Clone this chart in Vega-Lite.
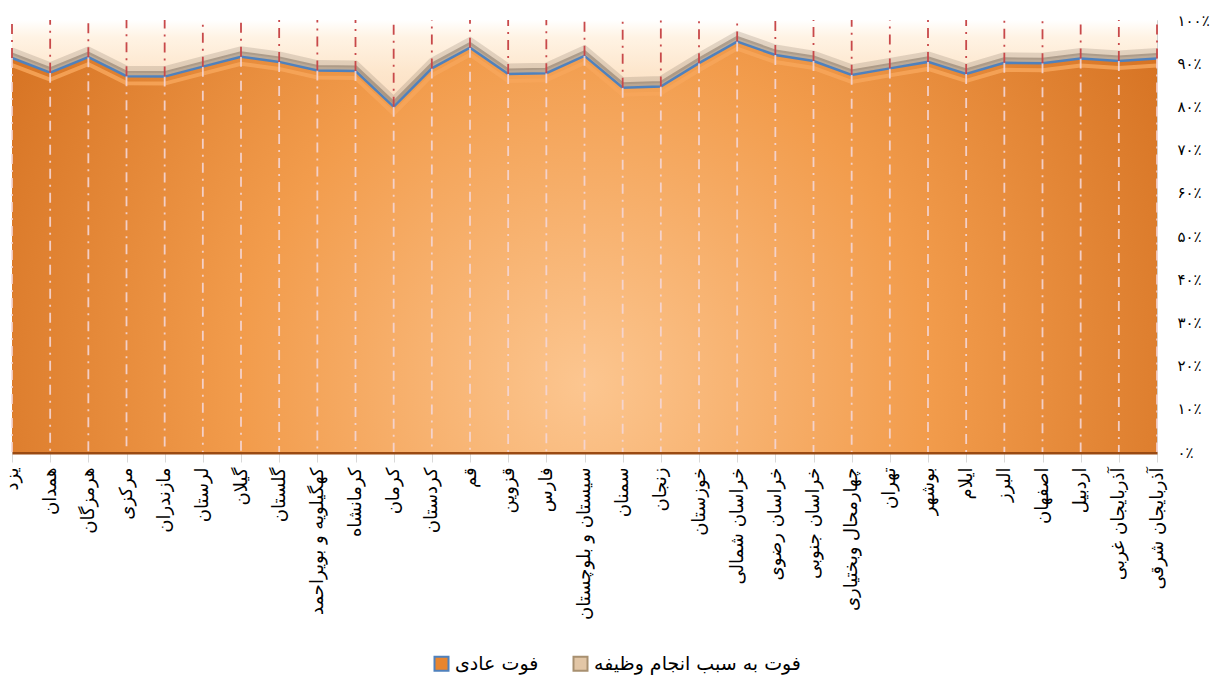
{
  "$schema": "https://vega.github.io/schema/vega-lite/v6.json",
  "autosize": "none",
  "width": 1145,
  "height": 432,
  "padding": {"left": 12, "top": 20, "right": 69, "bottom": 232},
  "background": "white",
  "config": {
    "font": "DejaVu Sans",
    "view": {"stroke": "#cfcfcf", "strokeWidth": 1}
  },
  "datasets": {
    "main": [
      {"province": "یزد", "normal": 0.912, "duty": 0.088},
      {"province": "همدان", "normal": 0.878, "duty": 0.122},
      {"province": "هرمزگان", "normal": 0.914, "duty": 0.086},
      {"province": "مرکزی", "normal": 0.870, "duty": 0.130},
      {"province": "مازندران", "normal": 0.869, "duty": 0.131},
      {"province": "لرستان", "normal": 0.892, "duty": 0.108},
      {"province": "گیلان", "normal": 0.915, "duty": 0.085},
      {"province": "گلستان", "normal": 0.903, "duty": 0.097},
      {"province": "کهگیلویه و بویراحمد", "normal": 0.883, "duty": 0.117},
      {"province": "کرمانشاه", "normal": 0.882, "duty": 0.118},
      {"province": "کرمان", "normal": 0.799, "duty": 0.201},
      {"province": "کردستان", "normal": 0.888, "duty": 0.112},
      {"province": "قم", "normal": 0.936, "duty": 0.064},
      {"province": "قزوین", "normal": 0.875, "duty": 0.125},
      {"province": "فارس", "normal": 0.877, "duty": 0.123},
      {"province": "سیستان  و بلوچستان", "normal": 0.917, "duty": 0.083},
      {"province": "سمنان", "normal": 0.843, "duty": 0.157},
      {"province": "زنجان", "normal": 0.846, "duty": 0.154},
      {"province": "خوزستان", "normal": 0.900, "duty": 0.100},
      {"province": "خراسان شمالی", "normal": 0.950, "duty": 0.050},
      {"province": "خراسان رضوی", "normal": 0.919, "duty": 0.081},
      {"province": "خراسان جنوبی", "normal": 0.905, "duty": 0.095},
      {"province": "چهارمحال وبختیاری", "normal": 0.873, "duty": 0.127},
      {"province": "تهران", "normal": 0.888, "duty": 0.112},
      {"province": "بوشهر", "normal": 0.903, "duty": 0.097},
      {"province": "ایلام", "normal": 0.875, "duty": 0.125},
      {"province": "البرز", "normal": 0.901, "duty": 0.099},
      {"province": "اصفهان", "normal": 0.900, "duty": 0.100},
      {"province": "اردبیل", "normal": 0.911, "duty": 0.089},
      {"province": "آذربایجان غربی", "normal": 0.905, "duty": 0.095},
      {"province": "آذربایجان شرقی", "normal": 0.911, "duty": 0.089}
    ],
    "legend": [
      {"series": "فوت عادی"},
      {"series": "فوت به سبب انجام وظیفه"}
    ]
  },
  "data": {"name": "main"},
  "encoding": {
    "x": {
      "field": "province",
      "type": "nominal",
      "sort": null,
      "scale": {"type": "point", "padding": 0},
      "title": null,
      "axis": {
        "orient": "bottom",
        "labelAngle": 270,
        "labelAlign": "right",
        "labelBaseline": "middle",
        "labelFontSize": 18,
        "labelColor": "#000000",
        "labelPadding": 5,
        "labelLimit": 300,
        "ticks": true,
        "tickSize": 10,
        "tickColor": "#d9d9d9",
        "domain": true,
        "domainColor": "#9a4a12",
        "domainWidth": 4,
        "grid": false
      }
    }
  },
  "layer": [
    {
      "mark": {
        "type": "area",
        "fill": {
          "gradient": "linear",
          "x1": 0, "y1": 0, "x2": 0, "y2": 1,
          "stops": [
            {"offset": 0, "color": "#ffffff"},
            {"offset": 0.2, "color": "#fff3e4"},
            {"offset": 0.6, "color": "#fde6cc"},
            {"offset": 1, "color": "#fbdcc0"}
          ]
        }
      },
      "encoding": {
        "y": {
          "field": "normal",
          "type": "quantitative",
          "scale": {"domain": [0, 1], "nice": false},
          "title": null,
          "axis": {
            "orient": "right",
            "values": [0, 0.1, 0.2, 0.3, 0.4, 0.5, 0.6, 0.7, 0.8, 0.9, 1],
            "labelExpr": "['۰٪','۱۰٪','۲۰٪','۳۰٪','۴۰٪','۵۰٪','۶۰٪','۷۰٪','۸۰٪','۹۰٪','۱۰۰٪'][round(datum.value*10)]",
            "labelFontSize": 15,
            "labelColor": "#000000",
            "labelPadding": 20,
            "labelAlign": "left",
            "ticks": false,
            "domain": false,
            "grid": false
          }
        },
        "y2": {"datum": 1}
      }
    },
    {
      "mark": {"type": "line", "color": "#6f5f50", "strokeWidth": 7, "opacity": 0.2, "yOffset": -7},
      "encoding": {"y": {"field": "normal", "type": "quantitative"}}
    },
    {
      "mark": {"type": "line", "color": "#7a6a5a", "strokeWidth": 5, "opacity": 0.5, "yOffset": -3},
      "encoding": {"y": {"field": "normal", "type": "quantitative"}}
    },
    {
      "mark": {
        "type": "area",
        "fill": {
          "gradient": "radial",
          "x1": 0.5, "y1": 0.62, "r1": 0,
          "x2": 0.5, "y2": 0.62, "r2": 0.75,
          "stops": [
            {"offset": 0, "color": "#fcc690"},
            {"offset": 0.4, "color": "#f29c4c"},
            {"offset": 0.8, "color": "#d47020"},
            {"offset": 1, "color": "#b85a16"}
          ]
        }
      },
      "encoding": {
        "y": {"field": "normal", "type": "quantitative"},
        "y2": {"datum": 0}
      }
    },
    {
      "mark": {"type": "line", "color": "#f7a65a", "strokeWidth": 4, "opacity": 0.85, "yOffset": 7},
      "encoding": {"y": {"field": "normal", "type": "quantitative"}}
    },
    {
      "mark": {"type": "line", "color": "#4f81bd", "strokeWidth": 2.5},
      "encoding": {"y": {"field": "normal", "type": "quantitative"}}
    },
    {
      "mark": {"type": "rule", "color": "#f4d6d6", "strokeWidth": 1.8, "opacity": 0.9, "strokeDash": [10, 6, 2, 6]},
      "encoding": {
        "y": {"field": "normal", "type": "quantitative"},
        "y2": {"datum": 0}
      }
    },
    {
      "mark": {"type": "rule", "color": "#c8494a", "strokeWidth": 1.8, "strokeDash": [10, 6, 2, 6]},
      "encoding": {
        "y": {"field": "normal", "type": "quantitative"},
        "y2": {"datum": 1}
      }
    },
    {
      "data": {"name": "legend"},
      "mark": {"type": "square", "opacity": 0, "size": 1},
      "encoding": {
        "x": {"value": 0},
        "y": {"value": 0},
        "color": {
          "field": "series",
          "type": "nominal",
          "scale": {"domain": ["فوت عادی", "فوت به سبب انجام وظیفه"], "range": ["#e8852f", "#e2c6a6"]},
          "legend": {
            "orient": "none",
            "legendX": 420,
            "legendY": 634,
            "direction": "horizontal",
            "title": null,
            "symbolType": "square",
            "symbolSize": 196,
            "symbolOpacity": 1,
            "symbolStrokeWidth": 2,
            "labelFontSize": 19,
            "labelColor": "#000000",
            "columnPadding": 30,
            "labelLimit": 400
          }
        },
        "stroke": {
          "field": "series",
          "type": "nominal",
          "scale": {"domain": ["فوت عادی", "فوت به سبب انجام وظیفه"], "range": ["#4f81bd", "#a89070"]},
          "legend": {
            "orient": "none",
            "legendX": 420,
            "legendY": 634,
            "direction": "horizontal",
            "title": null,
            "symbolType": "square",
            "symbolSize": 196,
            "symbolOpacity": 1,
            "symbolStrokeWidth": 2,
            "labelFontSize": 19,
            "labelColor": "#000000",
            "columnPadding": 30,
            "labelLimit": 400
          }
        }
      }
    }
  ]
}
